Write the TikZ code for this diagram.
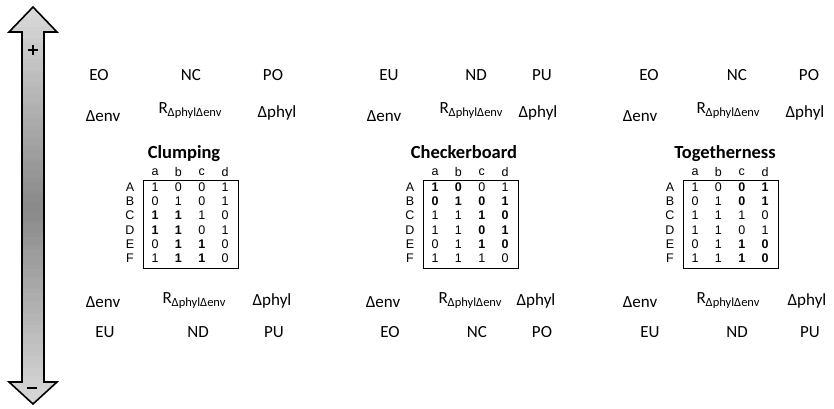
\documentclass[tikz,border=0pt]{standalone}
\usepackage{fontspec}
\setmainfont{Carlito}
\newfontfamily\arial{Liberation Sans}
\tikzset{
  lab/.style={anchor=base, font=\fontsize{17}{18}\selectfont, inner sep=0pt},
  ttl/.style={anchor=base, font=\fontsize{18.5}{20}\bfseries\selectfont, inner sep=0pt},
  cell/.style={font=\arial\fontsize{12.5}{13}\selectfont, inner sep=0pt, anchor=center},
  bcell/.style={cell, font=\arial\fontsize{12.5}{13}\bfseries\selectfont},
  mbox/.style={draw=black, line width=1.3pt, inner sep=0pt, minimum width=95pt, minimum height=88pt, anchor=north west},
  sign/.style={fill=black, draw=none, inner sep=0pt},
}
\newcommand{\Rsub}{R\raisebox{-0.4ex}{\fontsize{12.5}{13}\selectfont ΔphylΔenv}}
\begin{document}
\begin{tikzpicture}[x=1pt,y=-1pt]
\useasboundingbox (0,0) rectangle (834,408);
% double arrow with vertical gradient
\begin{scope}
\clip (33,7) -- (57,32) -- (44,32) -- (44,382) -- (57,382) -- (33,404) -- (9,382) -- (22,382) -- (22,32) -- (9,32) -- cycle;
\foreach \k in {0,...,99} {
  \pgfmathsetmacro\yy{7+\k*3.97}
  \pgfmathtruncatemacro\pp{15+32*(1-abs(\yy+2-207)/200)}
  \fill[black!\pp] (0,\yy) rectangle (60,\yy+4.3);
}
\end{scope}
\draw[line width=1.6pt, line join=miter]
  (33,7) -- (57,32) -- (44,32) -- (44,382) -- (57,382) -- (33,404) -- (9,382) -- (22,382) -- (22,32) -- (9,32) -- cycle;
\node[sign, minimum width=10pt, minimum height=2.4pt] (plush) at (33,50) {};
\node[sign, minimum width=2.4pt, minimum height=10pt] (plusv) at (33,50) {};
\node[sign, minimum width=10pt, minimum height=2.6pt] (minus) at (32,388) {};

% ---------- group 1 ----------
\node[lab] (g1eo) at (99,80) {EO};
\node[lab] (g1nc) at (191,80) {NC};
\node[lab] (g1po) at (273,80) {PO};
\node[lab] (g1de) at (103,121) {Δenv};
\node[lab] (g1r) at (190,113) {\Rsub};
\node[lab] (g1dp) at (277,117) {Δphyl};
\node[lab] (g1bde) at (103,307) {Δenv};
\node[lab] (g1br) at (194,303) {\Rsub};
\node[lab] (g1bdp) at (272,305) {Δphyl};
\node[lab] (g1eu) at (105,337) {EU};
\node[lab] (g1nd) at (198,337) {ND};
\node[lab] (g1pu) at (274,337) {PU};

% ---------- group 2 ----------
\node[lab] (g2eu) at (389,80) {EU};
\node[lab] (g2nd) at (476,80) {ND};
\node[lab] (g2pu) at (542,80) {PU};
\node[lab] (g2de) at (384,121) {Δenv};
\node[lab] (g2r) at (471,113) {\Rsub};
\node[lab] (g2dp) at (538,117) {Δphyl};
\node[lab] (g2bde) at (383,307) {Δenv};
\node[lab] (g2br) at (470,303) {\Rsub};
\node[lab] (g2bdp) at (536,305) {Δphyl};
\node[lab] (g2eo) at (390,337) {EO};
\node[lab] (g2nc) at (477,337) {NC};
\node[lab] (g2po) at (542,337) {PO};

% ---------- group 3 ----------
\node[lab] (g3eo) at (649,80) {EO};
\node[lab] (g3nc) at (737,80) {NC};
\node[lab] (g3po) at (809,80) {PO};
\node[lab] (g3de) at (640,121) {Δenv};
\node[lab] (g3r) at (728,113) {\Rsub};
\node[lab] (g3dp) at (805,117) {Δphyl};
\node[lab] (g3bde) at (640,307) {Δenv};
\node[lab] (g3br) at (728,303) {\Rsub};
\node[lab] (g3bdp) at (807,305) {Δphyl};
\node[lab] (g3eu) at (650,337) {EU};
\node[lab] (g3nd) at (737,337) {ND};
\node[lab] (g3pu) at (810,337) {PU};

% ---------- titles ----------
\node[ttl] (t1) at (184,158) {Clumping};
\node[ttl] (t2) at (464,158) {Checkerboard};
\node[ttl] (t3) at (725,158) {Togetherness};

% ---------- matrices ----------
\foreach \L/\nm in {143/m1, 423/m2, 683/m3} {
  \node[mbox] (\nm box) at (\L,180) {};
  \foreach \c [count=\i] in {a,b,c,d}
    \node[cell] (\nm h\i) at (\L+12+23.4*\i-23.4,172) {\c};
  \foreach \r [count=\j] in {A,B,C,D,E,F}
    \node[cell] (\nm r\j) at (\L-13,187+14.3*\j-14.3) {\r};
}
\foreach \L/\nm/\data in {
  143/m1/{1/1/1/0,1/2/0/0,1/3/0/0,1/4/1/0,
          2/1/0/0,2/2/1/0,2/3/0/0,2/4/1/0,
          3/1/1/1,3/2/1/1,3/3/1/0,3/4/0/0,
          4/1/1/1,4/2/1/1,4/3/0/0,4/4/1/0,
          5/1/0/0,5/2/1/1,5/3/1/1,5/4/0/0,
          6/1/1/0,6/2/1/1,6/3/1/1,6/4/0/0},
  423/m2/{1/1/1/1,1/2/0/1,1/3/0/0,1/4/1/0,
          2/1/0/1,2/2/1/1,2/3/0/1,2/4/1/1,
          3/1/1/0,3/2/1/0,3/3/1/1,3/4/0/1,
          4/1/1/0,4/2/1/0,4/3/0/1,4/4/1/1,
          5/1/0/0,5/2/1/0,5/3/1/1,5/4/0/1,
          6/1/1/0,6/2/1/0,6/3/1/0,6/4/0/0},
  683/m3/{1/1/1/0,1/2/0/0,1/3/0/1,1/4/1/1,
          2/1/0/0,2/2/1/0,2/3/0/1,2/4/1/1,
          3/1/1/0,3/2/1/0,3/3/1/0,3/4/0/0,
          4/1/1/0,4/2/1/0,4/3/0/0,4/4/1/0,
          5/1/0/0,5/2/1/0,5/3/1/1,5/4/0/1,
          6/1/1/0,6/2/1/0,6/3/1/1,6/4/0/1}} {
  \foreach \r/\c/\v/\b in \data {
    \ifnum\b=1
      \node[bcell] (\nm c\r\c) at (\L+12+23.4*\c-23.4,187+14.3*\r-14.3) {\v};
    \else
      \node[cell] (\nm c\r\c) at (\L+12+23.4*\c-23.4,187+14.3*\r-14.3) {\v};
    \fi
  }
}
\end{tikzpicture}
\end{document}
